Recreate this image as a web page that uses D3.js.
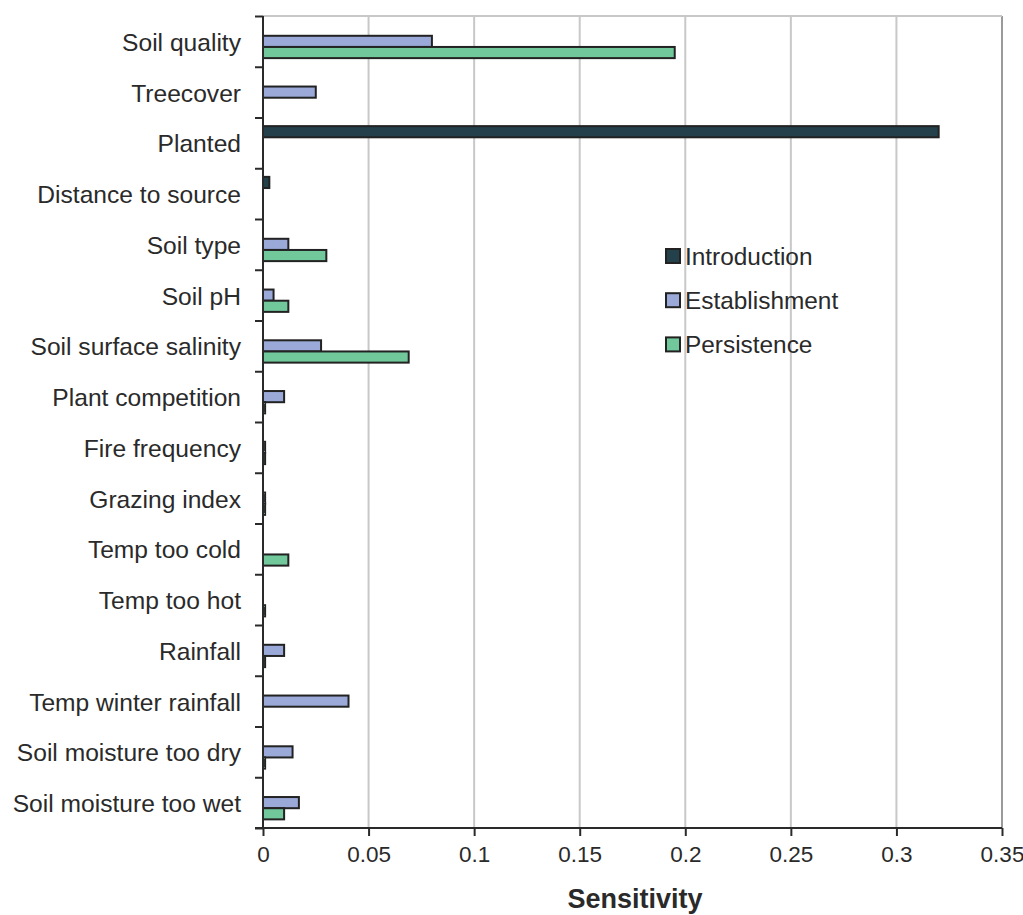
<!DOCTYPE html>
<html><head><meta charset="utf-8">
<script src="https://cdn.jsdelivr.net/npm/d3@7"></script>
<style>
html,body{margin:0;padding:0;background:#fff;}
svg{display:block;font-family:"Liberation Sans",Arial,sans-serif;}
</style></head>
<body>
<svg id="chart" width="1023" height="915"></svg>
<script>
const categories = ["Soil quality","Treecover","Planted","Distance to source","Soil type","Soil pH","Soil surface salinity","Plant competition","Fire frequency","Grazing index","Temp too cold","Temp too hot","Rainfall","Temp winter rainfall","Soil moisture too dry","Soil moisture too wet"];
const seriesNames = ["Introduction","Establishment","Persistence"];
const introduction  = [0, 0, 0.32, 0.003, 0, 0, 0, 0, 0, 0, 0, 0, 0, 0, 0, 0];
const establishment = [0.08, 0.025, 0, 0, 0.012, 0.005, 0.0275, 0.010, 0.001, 0.001, 0, 0, 0.010, 0.0405, 0.014, 0.017];
const persistence   = [0.195, 0, 0, 0, 0.030, 0.012, 0.069, 0.001, 0.001, 0.001, 0.012, 0.001, 0.001, 0, 0.001, 0.010];
const xTicks = [0, 0.05, 0.1, 0.15, 0.2, 0.25, 0.3, 0.35];
const xTickLabels = ["0","0.05","0.1","0.15","0.2","0.25","0.3","0.35"];
const colors = ["#24404a","#9aa9d8","#71c89b"];

const values = [introduction, establishment, persistence];
const svg = d3.select("#chart");
const L = 263, R = 1002, T = 16, B = 828;

const x = d3.scaleLinear().domain([0, 0.35]).range([L, R]);
const y = d3.scaleBand().domain(categories).range([T, B]).paddingInner(0.34).paddingOuter(0.17);
const ySub = d3.scaleBand().domain(seriesNames).range([0, y.bandwidth()]);

// gridlines
svg.append("g").selectAll("line").data(xTicks.slice(1)).join("line")
  .attr("x1", d => x(d)).attr("x2", d => x(d)).attr("y1", T).attr("y2", B)
  .attr("stroke", d => d === 0.35 ? "#9a9a9a" : "#c8c8c8").attr("stroke-width", 2);
// top border
svg.append("line").attr("x1", L).attr("x2", R).attr("y1", T).attr("y2", T)
  .attr("stroke", "#c8c8c8").attr("stroke-width", 2);

// bars
const groups = svg.append("g").selectAll("g").data(categories).join("g")
  .attr("transform", c => `translate(0,${y(c)})`);
groups.each(function(c, i){
  const g = d3.select(this);
  seriesNames.forEach((s, j) => {
    const v = values[j][i];
    if (v <= 0) return;
    g.append("rect")
      .attr("x", x(0)).attr("y", ySub(s))
      .attr("width", Math.max(x(v) - x(0), 0.5)).attr("height", ySub.bandwidth())
      .attr("fill", colors[j]).attr("stroke", "#222").attr("stroke-width", 2);
  });
});

// y axis
const yAxis = d3.axisLeft(d3.scaleLinear().domain([0, categories.length]).range([T, B]))
  .tickValues(d3.range(categories.length + 1)).tickSize(8).tickFormat("");
const gy = svg.append("g").attr("transform", `translate(${L},0)`).call(yAxis);
gy.selectAll("path,line").attr("stroke", "#2a2a2a").attr("stroke-width", 2);
gy.select(".domain").attr("d", `M0,${T}V${B}`);

svg.append("g").selectAll("text").data(categories).join("text")
  .attr("x", 241).attr("y", c => y(c) + y.bandwidth()/2 + 9.5)
  .attr("text-anchor", "end").attr("font-size", 24.6).attr("fill", "#2a2a2a")
  .text(c => c);

// x axis
const xAxis = d3.axisBottom(x).tickValues(xTicks).tickSize(8)
  .tickFormat((d, i) => xTickLabels[i]);
const gx = svg.append("g").attr("transform", `translate(0,${B})`).call(xAxis);
gx.selectAll("path,line").attr("stroke", "#2a2a2a").attr("stroke-width", 2);
gx.select(".domain").attr("d", `M${L-8},0H${R}`);
gx.selectAll("text").attr("font-size", 22.5).attr("fill", "#2a2a2a")
  .attr("font-family", "'Liberation Sans',Arial,sans-serif")
  .attr("y", 34).attr("dy", null);

svg.append("text").attr("x", 635).attr("y", 908).attr("text-anchor", "middle")
  .attr("font-size", 27).attr("font-weight", "bold").attr("fill", "#2a2a2a")
  .text("Sensitivity");

// legend
const leg = svg.append("g").selectAll("g").data(seriesNames).join("g")
  .attr("transform", (d, i) => `translate(666,${249 + i*44.2})`);
leg.append("rect").attr("width", 14).attr("height", 14)
  .attr("fill", (d, i) => colors[i]).attr("stroke", "#222").attr("stroke-width", 2);
leg.append("text").attr("x", 19).attr("y", 16).attr("font-size", 24.4).attr("fill", "#2a2a2a")
  .text(d => d);
</script>
</body></html>
